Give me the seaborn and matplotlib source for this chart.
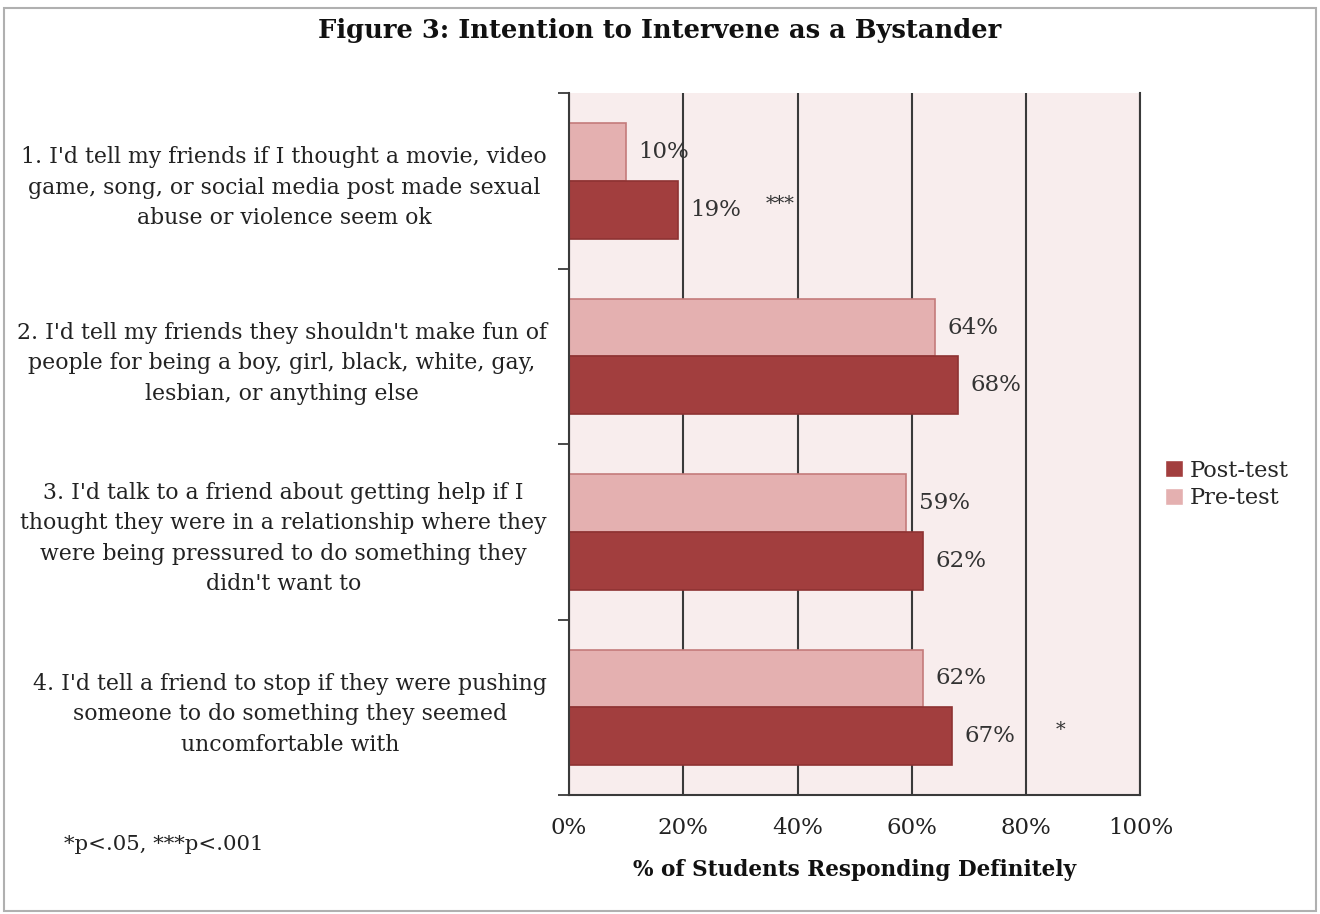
#!/usr/bin/env python3
import pandas as pd
import seaborn as sns
import matplotlib.pyplot as plt
from matplotlib.patches import Rectangle
from matplotlib.ticker import FixedLocator

questions = [
    "1. I'd tell my friends if I thought a movie, video\ngame, song, or social media post made sexual\nabuse or violence seem ok",
    "2. I'd tell my friends they shouldn't make fun of\npeople for being a boy, girl, black, white, gay,\nlesbian, or anything else",
    "3. I'd talk to a friend about getting help if I\nthought they were in a relationship where they\nwere being pressured to do something they\ndidn't want to",
    "4. I'd tell a friend to stop if they were pushing\nsomeone to do something they seemed\nuncomfortable with",
]
pre_test = [10, 64, 59, 62]
post_test = [19, 68, 62, 67]
significance = ["***", "", "", "*"]
sig_x = [37, None, None, 86]
x_ticks = [0, 20, 40, 60, 80, 100]

pre_color = "#e4b0b0"
post_color = "#a23e3e"

sns.set_theme(style="white")
plt.rcParams["font.family"] = ["DejaVu Serif"]

df = pd.DataFrame({
    "question": questions * 2,
    "pct": pre_test + post_test,
    "test": ["Pre-test"] * len(questions) + ["Post-test"] * len(questions),
})

fig = plt.figure(figsize=(13.2, 9.14), dpi=100)
ax = fig.add_axes([0.431, 0.130, 0.433, 0.768])
ax.set_facecolor("#f8eded")

sns.barplot(
    data=df, y="question", x="pct", hue="test",
    hue_order=["Pre-test", "Post-test"],
    palette=[pre_color, post_color], saturation=1,
    orient="h", width=0.66, ax=ax, legend=True,
)
edge = {0: "#c47b7b", 1: "#8e3232"}
for i, cont in enumerate(ax.containers):
    for bar in cont:
        bar.set_edgecolor(edge[i])
        bar.set_linewidth(1.2)
    ax.bar_label(cont, fmt="%d%%", padding=9, fontsize=16.5, color="#333333")

# significance markers next to post-test bars
for i, s in enumerate(significance):
    if s:
        ax.text(sig_x[i], i + 0.13, s, ha="center", va="center",
                fontsize=14, color="#333333")

ax.set_xlim(0, 100)
ax.set_ylim(len(questions) - 0.5, -0.5)
ax.set_xticks(x_ticks)
ax.set_xticklabels([f"{t}%" for t in x_ticks], fontsize=16.5, color="#222222")
ax.set_axisbelow(True)
ax.xaxis.grid(True, color="#3a3a3a", lw=1.5)
ax.tick_params(axis="x", direction="out", length=8, width=1.3, color="#3a3a3a", pad=8)
ax.tick_params(axis="y", which="major", length=0, pad=16, labelsize=15.8, labelcolor="#222222")
ax.yaxis.set_minor_locator(FixedLocator([b - 0.5 for b in range(len(questions) + 1)]))
ax.tick_params(axis="y", which="minor", direction="out", length=8, width=1.3, color="#3a3a3a", left=True)
for lab in ax.get_yticklabels():
    lab.set_multialignment("center")
    lab.set_linespacing(1.5)
    lab.set_y(lab.get_position()[1])

ax.spines["top"].set_visible(False)
for side in ["left", "bottom", "right"]:
    ax.spines[side].set_color("#3a3a3a")
    ax.spines[side].set_linewidth(1.5)

ax.set_ylabel(None)
ax.set_xlabel("% of Students Responding Definitely", fontsize=15.6,
              fontweight="bold", labelpad=14, color="#111111")

handles, labels = ax.get_legend_handles_labels()
ax.legend(handles[::-1], labels[::-1], loc="center left",
          bbox_to_anchor=(0.867, 0.47), bbox_transform=fig.transFigure,
          frameon=False, fontsize=16.2, handlelength=0.8, handleheight=0.8,
          handletextpad=0.3, labelspacing=0.25)

fig.text(0.5, 0.967, "Figure 3: Intention to Intervene as a Bystander",
         ha="center", va="center", fontsize=18.5, fontweight="bold", color="#111111")
fig.text(0.124, 0.076, "*p<.05, ***p<.001", ha="center", va="center",
         fontsize=15.3, color="#222222")

fig.patches.append(Rectangle((0.003, 0.003), 0.994, 0.988, transform=fig.transFigure,
                             fill=False, edgecolor="#b0b0b0", lw=1.5))

plt.savefig("out.png", dpi=100)
